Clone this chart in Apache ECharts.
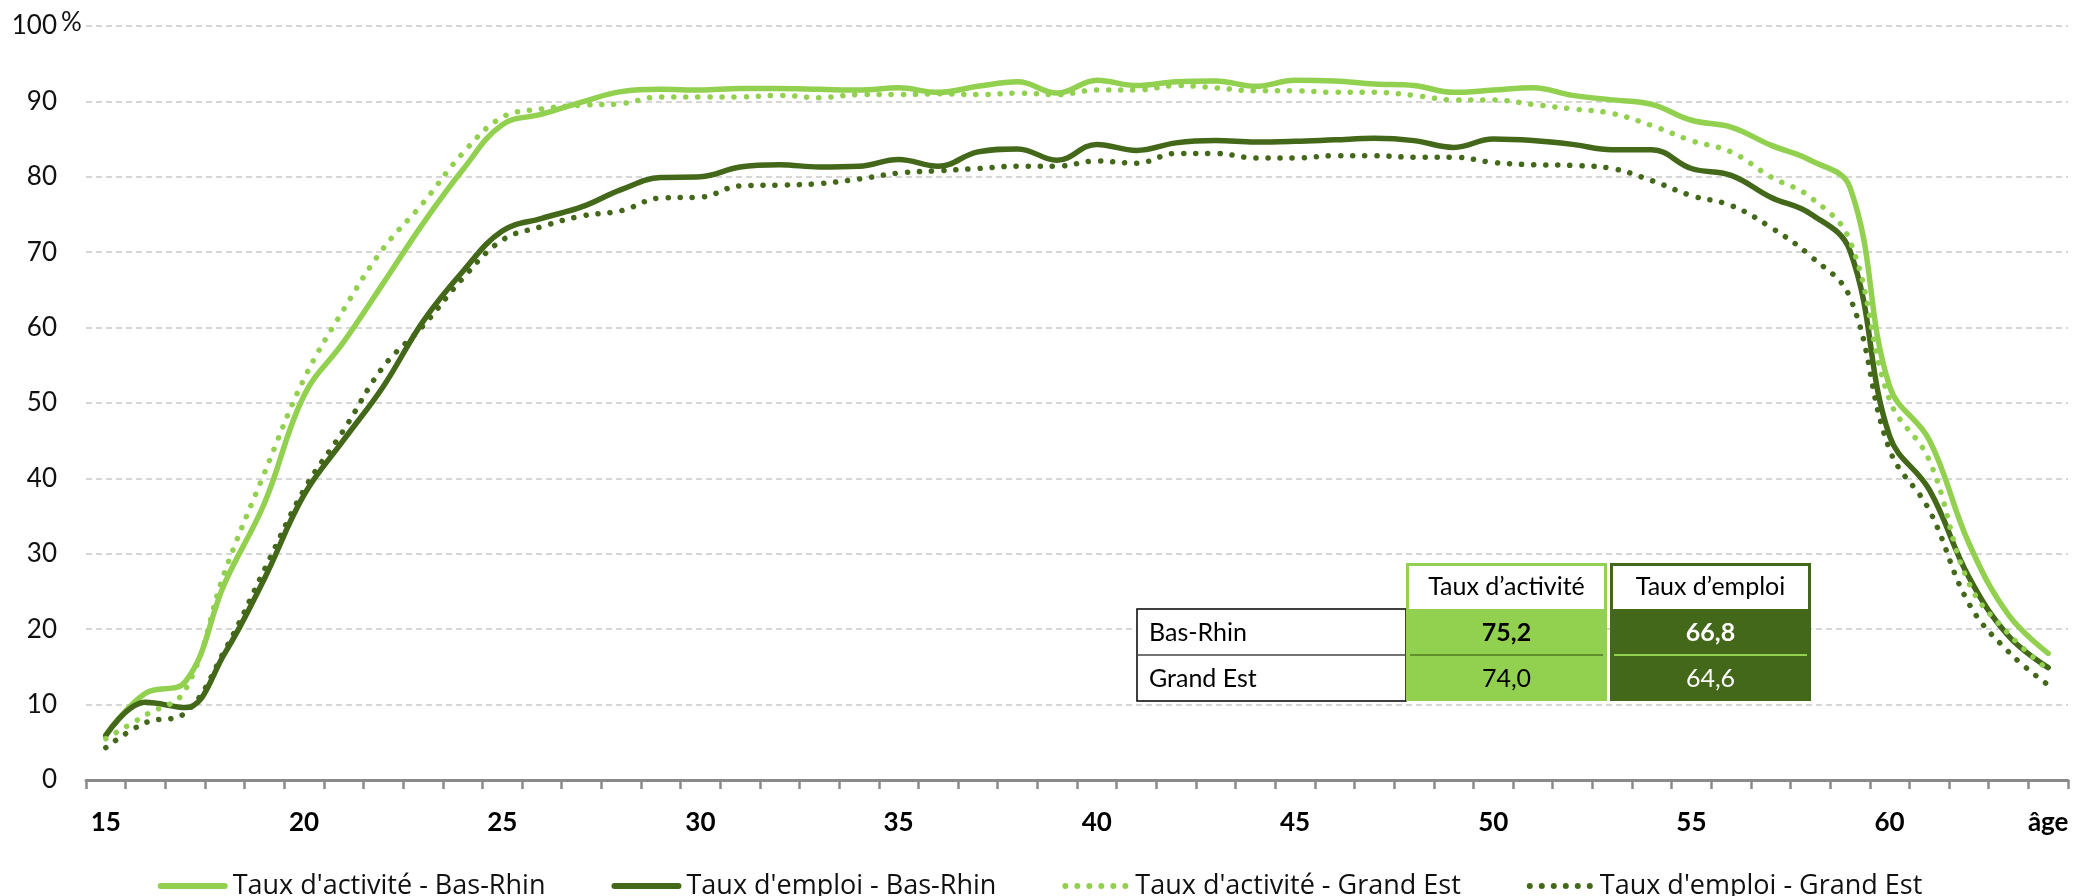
<!DOCTYPE html>
<html>
<head>
<meta charset="utf-8">
<script src="https://cdn.jsdelivr.net/npm/echarts@6/dist/echarts.min.js"></script>
<style>
html,body{margin:0;padding:0;background:#fff;}
#chart{width:2080px;height:896px;}
</style>
</head>
<body>
<div id="chart"></div>
<script>
// ---- Data ----
const ages = ['15','16','17','18','19','20','21','22','23','24','25','26','27','28','29','30','31','32','33','34','35','36','37','38','39','40','41','42','43','44','45','46','47','48','49','50','51','52','53','54','55','56','57','58','59','60','61','62','63','64'];
const lastAgeLabel = 'âge';
const actBasRhin = [6.0,11.5,13.0,26.1,36.7,51.0,58.1,65.9,73.8,80.9,86.9,88.3,89.9,91.3,91.6,91.5,91.7,91.7,91.6,91.5,91.8,91.2,92.0,92.6,91.1,92.8,92.1,92.6,92.7,92.0,92.8,92.7,92.3,92.1,91.2,91.5,91.8,90.8,90.2,89.6,87.5,86.6,84.2,82.2,78.6,52.2,45.1,31.4,21.9,16.8];
const empBasRhin = [5.9,10.3,9.6,16.8,26.7,37.8,45.1,52.2,60.8,67.4,72.8,74.5,76.0,78.3,79.9,80.0,81.3,81.6,81.3,81.4,82.3,81.4,83.3,83.7,82.2,84.3,83.5,84.5,84.8,84.6,84.7,84.9,85.1,84.8,83.9,85.0,84.8,84.3,83.6,83.6,81.1,80.2,77.3,75.1,70.2,45.6,38.5,26.9,19.1,14.9];
const actGrandEst = [5.5,8.6,11.9,27.6,40.7,53.2,62.4,70.5,76.5,83.1,87.9,89.0,89.5,89.7,90.6,90.6,90.6,90.8,90.5,90.9,90.9,91.0,90.9,91.1,90.9,91.5,91.5,92.1,91.8,91.4,91.4,91.2,91.2,90.8,90.2,90.2,89.6,89.0,88.4,86.8,84.8,83.3,80.0,77.3,71.5,50.4,42.4,26.1,19.4,14.6];
const empGrandEst = [4.3,7.6,8.9,17.2,27.9,38.5,46.4,54.8,60.2,66.5,71.6,73.4,74.8,75.5,77.2,77.3,78.8,78.9,79.1,79.7,80.5,80.8,81.1,81.4,81.4,82.1,81.8,83.1,83.1,82.5,82.5,82.8,82.8,82.6,82.6,81.9,81.6,81.5,81.1,79.5,77.5,76.2,73.3,69.5,64.0,43.8,35.8,23.4,17.0,12.6];
const seriesNames = ["Taux d'activité - Bas-Rhin","Taux d'emploi - Bas-Rhin","Taux d'activité - Grand Est","Taux d'emploi - Grand Est"];
const yMin = 0, yMax = 100, yStep = 10;
const yUnit = '%';
// summary table
const tableColumns = ['Taux d’activité','Taux d’emploi'];
const tableRows = ['Bas-Rhin','Grand Est'];
const tableActivite = ['75,2','74,0'];
const tableEmploi = ['66,8','64,6'];

// ---- Styles ----
const LIGHT = '#92D050';
const DARK = '#436819';
const FONT = 'Lato, "Open Sans", sans-serif';
const LEGEND_FONT = '"Open Sans", Lato, sans-serif';
const DOTS_ICON = 'path://M0,3a3,3 0 1,0 6,0a3,3 0 1,0 -6,0M12,3a3,3 0 1,0 6,0a3,3 0 1,0 -6,0M24,3a3,3 0 1,0 6,0a3,3 0 1,0 -6,0M36,3a3,3 0 1,0 6,0a3,3 0 1,0 -6,0M48,3a3,3 0 1,0 6,0a3,3 0 1,0 -6,0M60,3a3,3 0 1,0 6,0a3,3 0 1,0 -6,0';
const BAR_ICON = 'path://M3,0L67,0A3,3 0 0,1 67,6L3,6A3,3 0 0,1 3,0Z';

const chart = echarts.init(document.getElementById('chart'), null, {renderer:'canvas'});

function lineSeries(name, data, color, dotted){
  return {
    name: name, type: 'line', data: data, smooth: 0.4, symbol: 'none',
    lineStyle: dotted
      ? {color: color, width: 5.5, type: [0.1, 12], cap: 'round'}
      : {color: color, width: 5.5, cap: 'round', join: 'round'},
    itemStyle: {color: color},
    emphasis: {disabled: true},
    animation: false
  };
}

const option = {
  animation: false,
  backgroundColor: '#fff',
  grid: {left: 86, right: 12, top: 26, bottom: 116},
  legend: {
    data: [
      {name: seriesNames[0], icon: BAR_ICON},
      {name: seriesNames[1], icon: BAR_ICON},
      {name: seriesNames[2], icon: DOTS_ICON},
      {name: seriesNames[3], icon: DOTS_ICON}
    ],
    left: 'center', top: 866,
    itemWidth: 70, itemHeight: 6, itemGap: 66,
    textStyle: {fontFamily: LEGEND_FONT, fontSize: 27, color: '#111', lineHeight: 30}
  },
  xAxis: {
    type: 'category', data: ages, boundaryGap: true,
    axisLine: {show: true, lineStyle: {color: '#8a8a8a', width: 3}},
    axisTick: {show: true, interval: 0, length: 9, lineStyle: {color: '#8a8a8a', width: 2.5}},
    axisLabel: {
      interval: function(i){ return i % 5 === 0 || i === ages.length - 1; },
      formatter: function(v, i){ return i === ages.length - 1 ? lastAgeLabel : v; },
      fontFamily: FONT, fontSize: 26, fontWeight: 'bold', color: '#000', margin: 30
    },
    splitLine: {show: false}
  },
  yAxis: {
    type: 'value', min: yMin, max: yMax, interval: yStep,
    axisLine: {show: false}, axisTick: {show: false},
    axisLabel: {fontFamily: FONT, fontSize: 26, color: '#111', margin: 29},
    splitLine: {show: true, lineStyle: {color: '#d6d6d6', width: 2, type: [6, 4]}}
  },
  series: [
    lineSeries(seriesNames[0], actBasRhin, LIGHT, false),
    lineSeries(seriesNames[1], empBasRhin, DARK, false),
    lineSeries(seriesNames[2], actGrandEst, LIGHT, true),
    lineSeries(seriesNames[3], empGrandEst, DARK, true)
  ]
};
chart.setOption(option);

// unit label next to the top tick + summary table
const yTop = chart.convertToPixel({yAxisIndex: 0}, yMax);
const tx = 1137, colA = 1406, colB = 1610, colW = 201, hTop = 563, r1 = 609, r2 = 655, r3 = 701;
const els = [];
els.push({type:'text', left: 61, top: yTop - 16, style:{text: yUnit, font: '26px ' + FONT, fill:'#111'}, z: 10});
// row label box
els.push({type:'rect', shape:{x: tx, y: r1, width: colA - tx, height: r3 - r1}, style:{fill:'#fff', stroke:'#000', lineWidth: 1.5}, z: 10});
els.push({type:'line', shape:{x1: tx, y1: r2, x2: colA, y2: r2}, style:{stroke:'#444', lineWidth: 1.5}, z: 11});
// columns
[[colA, LIGHT, '#5f8f2e', '#000', tableActivite],[colB, DARK, LIGHT, '#fff', tableEmploi]].forEach(function(c, ci){
  const x = c[0];
  els.push({type:'rect', shape:{x: x, y: hTop, width: colW, height: r3 - hTop}, style:{fill: c[1]}, z: 10});
  els.push({type:'rect', shape:{x: x + 3, y: hTop + 3, width: colW - 6, height: r1 - hTop - 3}, style:{fill: '#fff'}, z: 11});
  els.push({type:'line', shape:{x1: x + 4, y1: r2, x2: x + colW - 4, y2: r2}, style:{stroke: c[2], lineWidth: 2}, z: 11});
  els.push({type:'text', x: x + colW/2, y: (hTop + r1)/2 + 1, style:{text: tableColumns[ci], font: '25px ' + FONT, fill:'#000', align:'center', verticalAlign:'middle'}, z: 12});
  c[4].forEach(function(v, ri){
    els.push({type:'text', x: x + colW/2, y: (ri === 0 ? (r1 + r2)/2 : (r2 + r3)/2) + 1,
      style:{text: v, font: (ri === 0 ? 'bold ' : '') + '25px ' + FONT, fill: c[3], align:'center', verticalAlign:'middle'}, z: 12});
  });
});
tableRows.forEach(function(r, ri){
  els.push({type:'text', x: tx + 12, y: (ri === 0 ? (r1 + r2)/2 : (r2 + r3)/2) + 1, style:{text: r, font: '25px ' + FONT, fill:'#000', align:'left', verticalAlign:'middle'}, z: 12});
});
chart.setOption({graphic: els});
</script>
</body>
</html>
